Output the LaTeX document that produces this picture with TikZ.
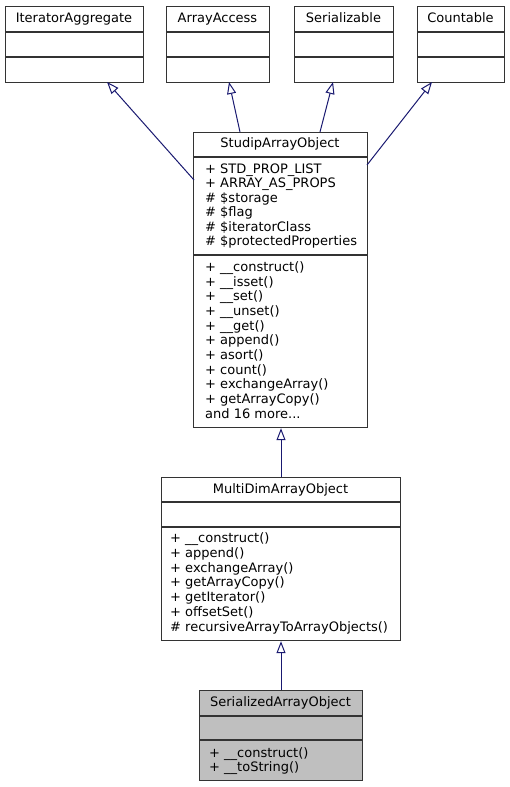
\documentclass[tikz,border=0pt]{standalone}
\usepackage{fontspec}
\setmainfont{DejaVu Sans}
\usetikzlibrary{arrows.meta}
\definecolor{edgecol}{HTML}{191970}
\definecolor{framecol}{HTML}{333333}
\definecolor{hilite}{HTML}{BFBFBF}
\begin{document}
\begin{tikzpicture}[x=1pt,y=-1pt,
  every node/.style={font=\fontsize{13}{15}\selectfont},
  box/.style={draw=framecol, line width=1.2pt, inner sep=0pt, anchor=north west},
  sepline/.style={draw=framecol, line width=1.2pt},
  txt/.style={anchor=base west, inner sep=0pt},
  ttl/.style={anchor=base, inner sep=0pt},
  inh/.style={draw=edgecol, line width=1pt, -{Triangle[open, length=12pt, width=9pt]}}]
\useasboundingbox (0,0) rectangle (510,787);

% top interfaces
\node[box, minimum width=138pt, minimum height=76pt] (ia) at (5,6) {};
\draw[sepline] (5,32) -- (143,32); \draw[sepline] (5,57) -- (143,57);
\node[ttl] (iat) at (74,22) {IteratorAggregate};

\node[box, minimum width=103pt, minimum height=76pt] (aa) at (166,6) {};
\draw[sepline] (166,32) -- (269,32); \draw[sepline] (166,57) -- (269,57);
\node[ttl] (aat) at (217.5,22) {ArrayAccess};

\node[box, minimum width=99pt, minimum height=76pt] (se) at (294,6) {};
\draw[sepline] (294,32) -- (393,32); \draw[sepline] (294,57) -- (393,57);
\node[ttl] (set) at (343.5,22) {Serializable};

\node[box, minimum width=87pt, minimum height=76pt] (co) at (417,6) {};
\draw[sepline] (417,32) -- (504,32); \draw[sepline] (417,57) -- (504,57);
\node[ttl] (cot) at (460.5,22) {Countable};

% StudipArrayObject
\node[box, minimum width=174pt, minimum height=295pt] (sa) at (193,132) {};
\draw[sepline] (193,157) -- (367,157); \draw[sepline] (193,255) -- (367,255);
\node[ttl] (sat) at (280,147.5) {StudipArrayObject};
\foreach \t [count=\i from 0] in {{+ STD\_PROP\_LIST}, {+ ARRAY\_AS\_PROPS}, {\# \$storage}, {\# \$flag}, {\# \$iteratorClass}, {\# \$protectedProperties}}
  \node[txt] (saa\i) at (205,173.5+14.4*\i) {\t};
\foreach \t [count=\i from 0] in {{+ \_\_construct()}, {+ \_\_isset()}, {+ \_\_set()}, {+ \_\_unset()}, {+ \_\_get()}, {+ append()}, {+ asort()}, {+ count()}, {+ exchangeArray()}, {+ getArrayCopy()}, {and 16 more{.}{.}{.}}}
  \node[txt] (sam\i) at (205,271.5+14.65*\i) {\t};

% MultiDimArrayObject
\node[box, minimum width=239pt, minimum height=163pt] (md) at (161,477) {};
\draw[sepline] (161,502) -- (400,502); \draw[sepline] (161,527) -- (400,527);
\node[ttl] (mdt) at (280.5,493.5) {MultiDimArrayObject};
\foreach \t [count=\i from 0] in {{+ \_\_construct()}, {+ append()}, {+ exchangeArray()}, {+ getArrayCopy()}, {+ getIterator()}, {+ offsetSet()}, {\# recursiveArrayToArrayObjects()}}
  \node[txt] (mdm\i) at (170,542.5+14.8*\i) {\t};

% SerializedArrayObject
\node[box, fill=hilite, minimum width=163pt, minimum height=90pt] (so) at (199,690) {};
\draw[sepline] (199,716) -- (362,716); \draw[sepline] (199,740) -- (362,740);
\node[ttl] (sot) at (280.5,706.5) {SerializedArrayObject};
\foreach \t [count=\i from 0] in {{+ \_\_construct()}, {+ \_\_toString()}}
  \node[txt] (som\i) at (209,757+14*\i) {\t};

% connector end points
\coordinate (ia-in) at (107,82);
\coordinate (aa-in) at (229,82);
\coordinate (se-in) at (333,82);
\coordinate (co-in) at (432,82);
\coordinate (sa-o1) at (194,180);
\coordinate (sa-o2) at (240,132);
\coordinate (sa-o3) at (320,132);
\coordinate (sa-o4) at (367,165);

\draw[inh] (sa-o1) -- (ia-in);
\draw[inh] (sa-o2) -- (aa-in);
\draw[inh] (sa-o3) -- (se-in);
\draw[inh] (sa-o4) -- (co-in);
\draw[inh] (md.north -| 281,0) -- (sa.south -| 281,0);
\draw[inh] (so.north -| 281,0) -- (md.south -| 281,0);
\end{tikzpicture}
\end{document}
